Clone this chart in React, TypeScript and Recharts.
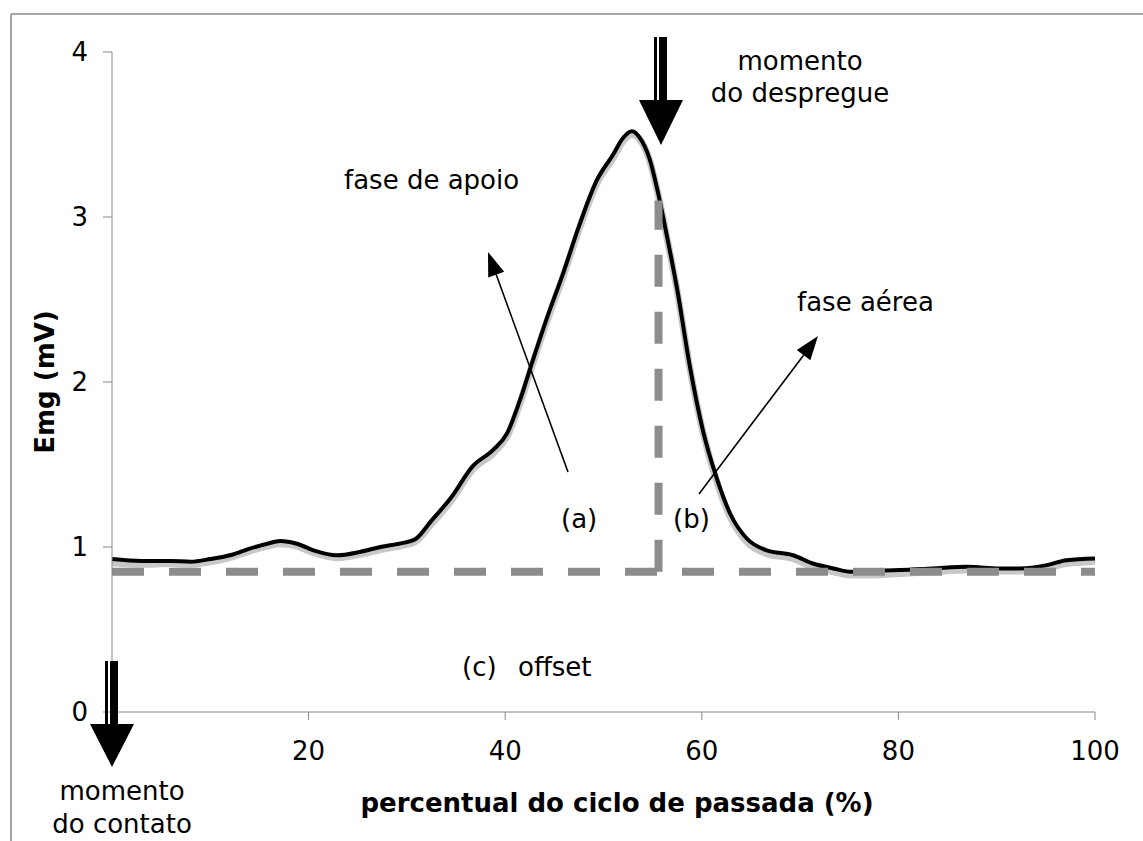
import { LineChart, Line, XAxis, YAxis } from 'recharts';

const FONT = '"DejaVu Sans", Verdana, sans-serif';

// percent of stride cycle
const pct = [
  0, 3, 6, 8, 10, 12, 14, 15.8, 17.1, 18.8, 20.5, 22.9, 25.2, 27.3, 29.6, 30.8,
  32.5, 34.5, 36.7, 38.8, 40.2, 41.5, 42.8, 44.2, 45.9, 47.6, 49.3, 51, 52, 52.9,
  53.7, 54.7, 55.5, 56.4, 57.5, 58.8, 60.1, 61.5, 62.9, 64.6, 66.6, 69.3, 71.3,
  73.4, 75.1, 77.4, 80.2, 83.5, 87, 90.3, 92.4, 95.1, 97.1, 100,
];

// black curve (mV)
const emgFiltered = [
  0.927, 0.915, 0.915, 0.911, 0.927, 0.95, 0.99, 1.02, 1.036, 1.02, 0.98, 0.95, 0.97, 1.0, 1.025, 1.045,
  1.16, 1.3, 1.49, 1.59, 1.69, 1.89, 2.13, 2.38, 2.66, 2.96, 3.22, 3.38, 3.48, 3.52,
  3.48, 3.35, 3.16, 2.9, 2.56, 2.09, 1.71, 1.42, 1.2, 1.05, 0.98, 0.95, 0.9,
  0.87, 0.85, 0.855, 0.86, 0.87, 0.88, 0.87, 0.87, 0.89, 0.92, 0.93,
];

// light grey curve underneath (mV)
const emgRaw = [
  0.905, 0.895, 0.9, 0.895, 0.91, 0.935, 0.975, 1.005, 1.02, 1.005, 0.965, 0.935, 0.955, 0.985, 1.01, 1.03,
  1.14, 1.28, 1.47, 1.57, 1.67, 1.87, 2.11, 2.36, 2.64, 2.94, 3.2, 3.36, 3.46, 3.5,
  3.47, 3.34, 3.15, 2.89, 2.55, 2.08, 1.7, 1.4, 1.18, 1.03, 0.96, 0.93, 0.88,
  0.85, 0.83, 0.83, 0.84, 0.85, 0.86, 0.855, 0.855, 0.87, 0.9, 0.91,
];

const offsetX = [0, 100];
const offsetY = [0.85, 0.85];
const toeOffX = [55.6, 55.6];
const toeOffY = [0.85, 3.1];

const xTicks = [20, 40, 60, 80, 100];
const yTicks = [0, 1, 2, 3, 4];

function thinArrow(x1: number, y1: number, x2: number, y2: number) {
  const a = Math.atan2(y2 - y1, x2 - x1);
  const len = 24;
  const hw = 8.5;
  const bx = x2 - len * Math.cos(a);
  const by = y2 - len * Math.sin(a);
  const px = -Math.sin(a) * hw;
  const py = Math.cos(a) * hw;
  return (
    <g>
      <line x1={x1} y1={y1} x2={bx} y2={by} stroke="#000" strokeWidth={1.6} />
      <polygon points={`${x2},${y2} ${bx + px},${by + py} ${bx - px},${by - py}`} fill="#000" />
    </g>
  );
}

function bigArrow(cx: number, top: number, headTop: number, tip: number) {
  return (
    <g>
      <rect x={cx - 7} y={top} width={3} height={headTop - top} fill="#000" />
      <rect x={cx - 2} y={top} width={8} height={headTop - top} fill="#000" />
      <polygon points={`${cx - 22},${headTop} ${cx + 22},${headTop} ${cx},${tip}`} fill="#000" />
    </g>
  );
}

export default function App() {
  const rows = pct.map((x, i) => ({ x, emg: emgFiltered[i], raw: emgRaw[i] }));
  const offsetRows = offsetX.map((x, i) => ({ x, y: offsetY[i] }));
  const toeOffRows = toeOffX.map((x, i) => ({ x, y: toeOffY[i] }));
  const tickStyle = { fill: '#000', fontSize: 26, fontFamily: FONT };

  return (
    <div style={{ position: 'absolute', left: 0, top: 0, width: 1143, height: 841, background: '#fff', fontFamily: FONT }}>
      <LineChart width={1143} height={841} data={rows} margin={{ top: 52, right: 48, bottom: 99, left: 52 }}>
        <XAxis
          type="number"
          dataKey="x"
          domain={[0, 100]}
          ticks={xTicks}
          tickSize={8}
          tickMargin={22}
          height={30}
          stroke="#888"
          tick={tickStyle}
        />
        <YAxis
          type="number"
          domain={[0, 4]}
          ticks={yTicks}
          tickSize={9}
          tickMargin={15}
          width={60}
          stroke="#888"
          tick={tickStyle}
        />
        <Line dataKey="raw" type="monotone" stroke="#c8c8c8" strokeWidth={7} dot={false} isAnimationActive={false} />
        <Line dataKey="emg" type="monotone" stroke="#000" strokeWidth={4} dot={false} isAnimationActive={false} />
        <Line
          data={offsetRows}
          dataKey="y"
          type="linear"
          stroke="#8c8c8c"
          strokeWidth={8}
          strokeDasharray="32 25"
          dot={false}
          isAnimationActive={false}
        />
        <Line
          data={toeOffRows}
          dataKey="y"
          type="linear"
          stroke="#8c8c8c"
          strokeWidth={8}
          strokeDasharray="32 25"
          dot={false}
          isAnimationActive={false}
        />
      </LineChart>

      <svg
        width={1143}
        height={841}
        style={{ position: 'absolute', left: 0, top: 0, pointerEvents: 'none' }}
        fontFamily={FONT}
        fontSize={26}
      >
        <line x1={11} y1={14} x2={1143} y2={14} stroke="#888" strokeWidth={1.5} />
        <line x1={11} y1={14} x2={11} y2={841} stroke="#888" strokeWidth={1.5} />

        {bigArrow(661, 37, 100, 145)}
        {bigArrow(112, 661, 724, 767)}

        <text x={800} y={70} textAnchor="middle">momento</text>
        <text x={800} y={102} textAnchor="middle">do despregue</text>
        <text x={122} y={800} textAnchor="middle">momento</text>
        <text x={122} y={833} textAnchor="middle">do contato</text>

        <text x={344} y={189}>fase de apoio</text>
        <text x={797} y={311}>fase aérea</text>
        <text x={561} y={528}>(a)</text>
        <text x={673} y={528}>(b)</text>
        <text x={462} y={676}>(c)</text>
        <text x={518} y={676}>offset</text>

        {thinArrow(568, 472, 488, 252)}
        {thinArrow(699, 494, 818, 336)}

        <text x={617} y={812} textAnchor="middle" fontWeight="bold">percentual do ciclo de passada (%)</text>
        <text transform="translate(54,382) rotate(-90)" textAnchor="middle" fontWeight="bold">Emg (mV)</text>
      </svg>
    </div>
  );
}
